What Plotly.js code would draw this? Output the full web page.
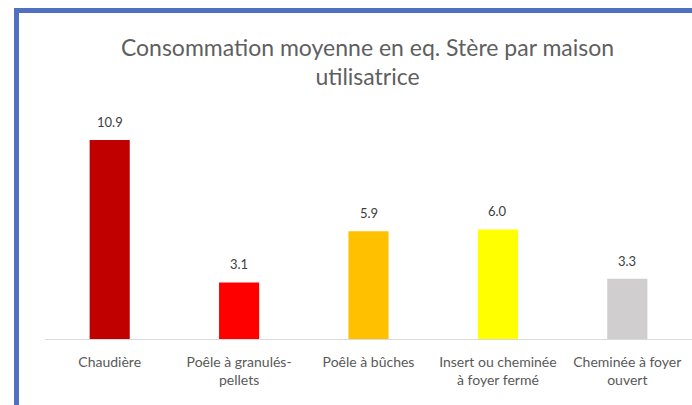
<!DOCTYPE html>
<html>
<head>
<meta charset="utf-8">
<script src="https://cdn.plot.ly/plotly-3.0.1.min.js"></script>
<style>
  html, body { margin: 0; padding: 0; background: #fff; }
  #wrap { position: relative; width: 692px; height: 405px; overflow: hidden; }
  #chart { position: absolute; left: 0; top: 0; width: 692px; height: 405px; }
  .btop { position: absolute; left: 14px; top: 8px; width: 678px; height: 5px; background: #4f71c0; z-index: 5; }
  .bleft { position: absolute; left: 14px; top: 8px; width: 5px; height: 397px; background: #4f71c0; z-index: 5; }
</style>
</head>
<body>
<div id="wrap">
  <div id="chart"></div>
  <div class="btop"></div>
  <div class="bleft"></div>
</div>
<script>
const categories = [
  "Chaudière",
  "Poêle à granulés-<br>pellets",
  "Poêle à bûches",
  "Insert ou cheminée<br>à foyer fermé",
  "Cheminée à foyer<br>ouvert"
];
const values = [10.9, 3.1, 5.9, 6.0, 3.3];
const colors = ["#c00000", "#ff0000", "#ffc000", "#ffff00", "#d0cece"];
const titleText = "Consommation moyenne en eq. Stère par maison<br>utilisatrice";

const FONT = "Lato, 'Open Sans', sans-serif";

const trace = {
  type: "bar",
  x: categories,
  y: values,
  marker: { color: colors, line: { width: 0 } },
  hoverinfo: "skip"
};

const annotations = categories.map((c, i) => ({
  x: c, y: values[i], xref: "x", yref: "y",
  text: values[i].toFixed(1),
  showarrow: false, yanchor: "middle", yshift: 18,
  font: { family: FONT, size: 13, color: "#404040" }
}));

const layout = {
  width: 692, height: 405,
  margin: { l: 45, r: 0, t: 100, b: 66 },
  paper_bgcolor: "#ffffff", plot_bgcolor: "#ffffff",
  bargap: 0.69,
  showlegend: false,
  title: {
    text: titleText,
    font: { family: FONT, size: 23, color: "#5f5f5f" },
    x: 0.4985, xanchor: "center", xref: "paper",
    y: 1 - 55.5 / 405, yanchor: "middle", yref: "container"
  },
  xaxis: {
    showline: true, linecolor: "#d9d9d9", linewidth: 1,
    ticks: "", showgrid: false, ticklabelstandoff: 10,
    tickfont: { family: FONT, size: 14, color: "#595959" }
  },
  yaxis: {
    range: [0, 13.09], visible: false, showgrid: false, zeroline: false
  },
  annotations: annotations
};

Plotly.newPlot("chart", [trace], layout, { displayModeBar: false, staticPlot: true });
</script>
</body>
</html>
